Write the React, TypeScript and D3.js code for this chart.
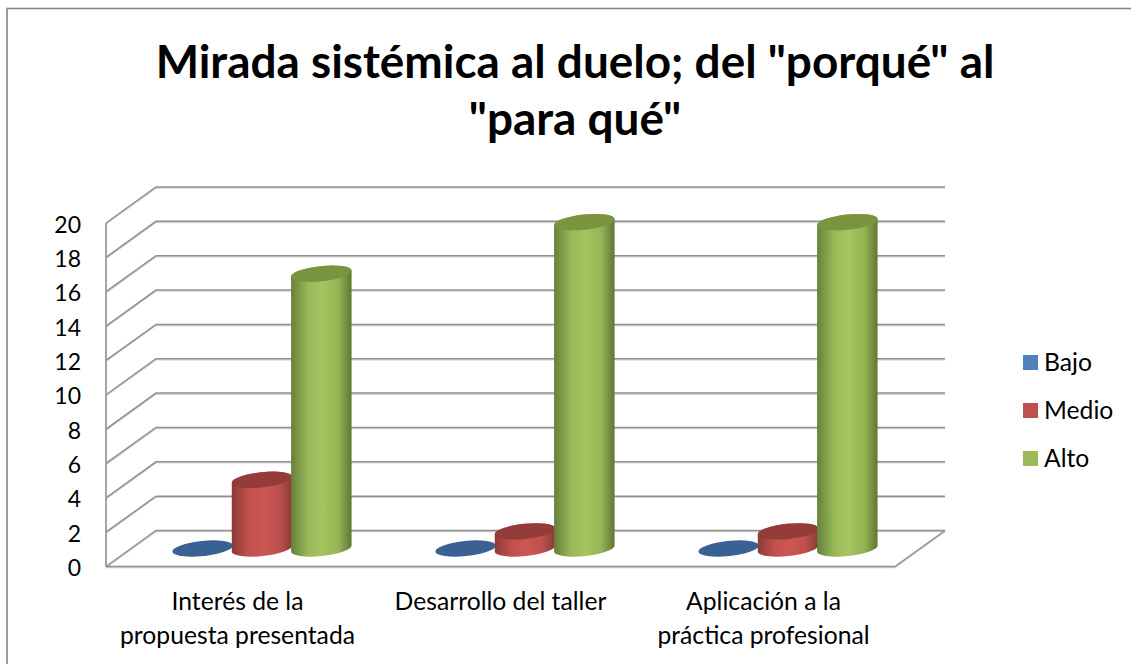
import React, { useEffect, useRef } from 'react';
import * as d3 from 'd3';

const categories = [['Interés de la', 'propuesta presentada'], ['Desarrollo del taller'], ['Aplicación a la', 'práctica profesional']];
const seriesNames = ['Bajo', 'Medio', 'Alto'];
const bajo = [0, 0, 0];
const medio = [4, 1, 1];
const alto = [16, 19, 19];
const yTicks = [0, 2, 4, 6, 8, 10, 12, 14, 16, 18, 20];
const titleLines = ['Mirada sistémica al duelo; del "porqué" al', '"para qué"'];

const legendColors = ['#4f81bd', '#c0504d', '#9bbb59'];
const sideEdgeL = ['#3a6193', '#8b3a38', '#66803a'];
const sideMid = ['#4f81bd', '#cd5653', '#a4c560'];
const sideEdgeR = ['#3a6193', '#8a3a37', '#5e7831'];
const topColors = ['#3a6193', '#933c39', '#7a9442'];

const width = 1131;
const height = 664;
const fontFamily = 'Lato, "Open Sans", sans-serif';

const App = () => {
    const ref = useRef<SVGSVGElement>(null);

    useEffect(() => {
        const svg = d3.select(ref.current);
        svg.selectAll('*').remove();

        // front-left corner of the floor and the depth offset of the 3D box
        const left = 106, right = 895, depthX = 50, depthY = -36;
        const y = d3.scaleLinear().domain([0, 20]).range([566.5, 223]);
        const catIdx = d3.range(categories.length);
        const x0 = d3.scaleBand<number>().domain(catIdx).range([left, right]);
        const groupWidth = 178;
        const x1 = d3.scaleBand<number>().domain([0, 1, 2]).range([0, groupWidth]);
        const values = [bajo, medio, alto];

        // chart frame, its right and bottom edges fall outside the picture
        svg.append('rect')
            .attr('x', 7).attr('y', 8.5)
            .attr('width', 1140).attr('height', 680)
            .attr('fill', '#fff').attr('stroke', '#868686').attr('stroke-width', 1.6);

        // title
        svg.append('g').selectAll('text').data(titleLines).enter().append('text')
            .attr('x', 575)
            .attr('y', (d, i) => 78 + i * 57)
            .attr('text-anchor', 'middle')
            .style('font-family', fontFamily)
            .style('font-weight', 700)
            .style('font-size', '45.9px')
            .attr('fill', '#000')
            .text(d => d);

        // walls: back gridlines and the diagonals on the side wall
        const grid = svg.append('g').attr('fill', 'none');
        const drawLine = (pts: [number, number][]) => {
            const path = d3.line()(pts);
            grid.append('path').attr('d', path).attr('stroke', '#d4d4d4').attr('stroke-width', 1.2).attr('transform', 'translate(0,1.2)');
            grid.append('path').attr('d', path).attr('stroke', '#8f8f8f').attr('stroke-width', 1.5);
        };
        yTicks.forEach(t => {
            const yy = y(t);
            drawLine([[left, yy], [left + depthX, yy + depthY], [right + depthX, yy + depthY]]);
        });
        drawLine([[left, y(0)], [left, y(20)]]);
        drawLine([[left, y(0)], [right, y(0)], [right + depthX, y(0) + depthY]]);

        // y labels
        svg.append('g').selectAll('text').data(yTicks).enter().append('text')
            .attr('x', 81)
            .attr('y', d => y(d) + 9.5)
            .attr('text-anchor', 'end')
            .style('font-family', fontFamily)
            .style('font-variant-numeric', 'lining-nums')
            .style('font-size', '23px')
            .attr('fill', '#000')
            .text(d => d);

        // x labels
        categories.forEach((lines, i) => {
            lines.forEach((line, j) => {
                svg.append('text')
                    .attr('x', x0(i)! + x0.bandwidth() / 2)
                    .attr('y', 609.5 + j * 34.5)
                    .attr('text-anchor', 'middle')
                    .style('font-family', fontFamily)
                    .style('font-size', '24.7px')
                    .attr('fill', '#000')
                    .text(line);
            });
        });

        // gradients for cylinders
        const defs = svg.append('defs');
        seriesNames.forEach((_, s) => {
            const g = defs.append('linearGradient').attr('id', `cyl${s}`).attr('x1', 0).attr('x2', 1).attr('y1', 0).attr('y2', 0);
            g.append('stop').attr('offset', '0%').attr('stop-color', sideEdgeL[s]);
            g.append('stop').attr('offset', '28%').attr('stop-color', d3.interpolateRgb(sideEdgeL[s], sideMid[s])(0.82));
            g.append('stop').attr('offset', '52%').attr('stop-color', sideMid[s]);
            g.append('stop').attr('offset', '78%').attr('stop-color', d3.interpolateRgb(sideEdgeR[s], sideMid[s])(0.78));
            g.append('stop').attr('offset', '100%').attr('stop-color', sideEdgeR[s]);
        });

        // cylinders, drawn left to right so that later ones cover earlier ones
        const rx = 30.4, ry = 7.6, tilt = -6;
        const dxTilt = rx * Math.cos(tilt * Math.PI / 180);
        const dyTilt = rx * Math.sin(tilt * Math.PI / 180);
        const bars = svg.append('g');
        catIdx.forEach(c => {
            seriesNames.forEach((_, s) => {
                const v = values[s][c];
                const cx = x0(c)! + (x0.bandwidth() - groupWidth) / 2 + depthX / 2 + x1(s)! + x1.bandwidth() / 2 - 0.5;
                const yBase = y(0) + depthY / 2;
                const yTop = yBase - (y(0) - y(v));
                if (v > 0) {
                    const d = `M${cx - dxTilt},${yTop - dyTilt}`
                        + `L${cx - dxTilt},${yBase - dyTilt}`
                        + `A${rx},${ry} ${tilt} 0 0 ${cx + dxTilt},${yBase + dyTilt}`
                        + `L${cx + dxTilt},${yTop + dyTilt}`
                        + `A${rx},${ry} ${tilt} 0 0 ${cx - dxTilt},${yTop - dyTilt}Z`;
                    bars.append('path').attr('d', d).attr('fill', `url(#cyl${s})`);
                }
                bars.append('ellipse')
                    .attr('rx', rx).attr('ry', ry)
                    .attr('transform', `translate(${cx},${yTop}) rotate(${tilt})`)
                    .attr('fill', topColors[s]);
            });
        });

        // legend
        const legend = svg.append('g').selectAll('g').data(seriesNames).enter().append('g')
            .attr('transform', (d, i) => `translate(1023,${355 + i * 48})`);
        legend.append('rect').attr('width', 15).attr('height', 15).attr('fill', (d, i) => legendColors[i]);
        legend.append('text')
            .attr('x', 21).attr('y', 16)
            .style('font-family', fontFamily)
            .style('font-size', '24.7px')
            .attr('fill', '#000')
            .text(d => d);
    }, []);

    return (
        <svg ref={ref} width={width} height={height} style={{ position: 'absolute', left: 0, top: 0, background: '#fff' }} />
    );
};

export default App;
